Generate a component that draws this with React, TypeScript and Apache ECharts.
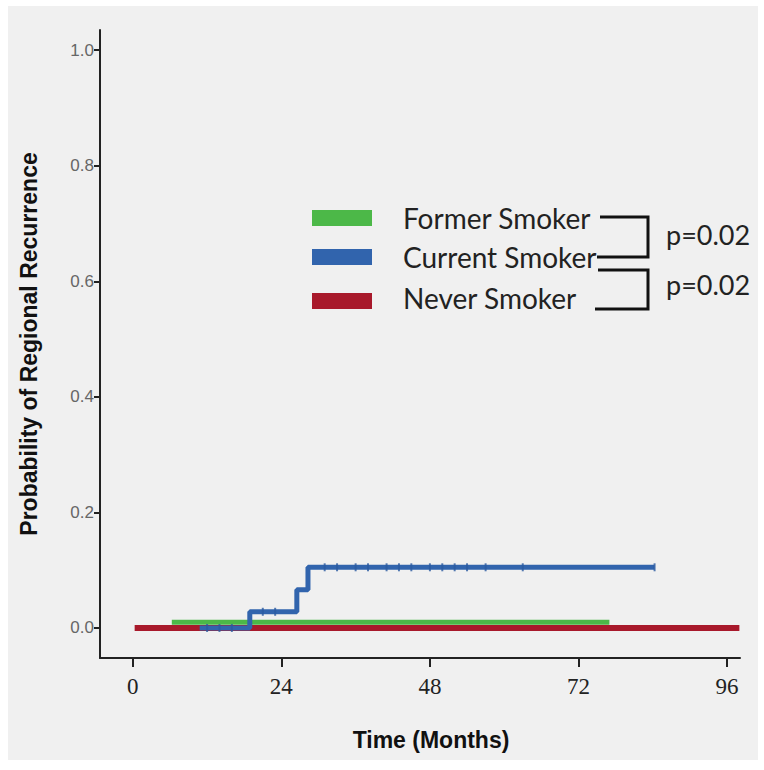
import React, { useEffect, useRef } from "react";
import * as echarts from "echarts";

// Kaplan–Meier step data: [month, cumulative probability]
const formerSmoker: [number, number][] = [
  [6.3, 0.01],
  [77, 0.01],
];
const currentSmoker: [number, number][] = [
  [10.8, 0],
  [18.9, 0.028],
  [26.5, 0.066],
  [28.3, 0.105],
  [84.3, 0.105],
];
const neverSmoker: [number, number][] = [
  [0.3, 0],
  [98, 0],
];
// censor marks on the current smoker curve
const currentCensors: [number, number][] = [
  [12, 0], [14, 0], [16, 0], [21, 0.028], [23, 0.028],
  [31, 0.105], [33, 0.105], [36, 0.105], [38, 0.105], [41, 0.105], [43, 0.105],
  [45, 0.105], [48, 0.105], [50, 0.105], [52, 0.105], [54, 0.105], [57, 0.105], [63, 0.105], [84.3, 0.105],
];
const xTicks = [0, 24, 48, 72, 96];
const yTicks = [0, 0.2, 0.4, 0.6, 0.8, 1.0];
const legendNames = ["Former Smoker", "Current Smoker", "Never Smoker"];
const legendColors = ["#4cb848", "#3164ad", "#a8192b"];
const pValues = ["p=0.02", "p=0.02"];

export default function App() {
  const ref = useRef<HTMLDivElement>(null);
  useEffect(() => {
    if (!ref.current) return;
    const chart = echarts.init(ref.current, undefined, { renderer: "svg" });
    const legendY = [218, 257, 298];
    const graphic: any[] = [
      { type: "rect", z: -10, shape: { x: 0, y: 0, width: 764, height: 770 }, style: { fill: "#ffffff" } },
      { type: "rect", z: -9, shape: { x: 8, y: 6, width: 750, height: 754 }, style: { fill: "#f0f0f0" } },
    ];
    legendNames.forEach((n, i) => {
      graphic.push({
        type: "rect",
        shape: { x: 312, y: legendY[i] - 8 + (i === 2 ? 3 : 0), width: 60, height: 16 },
        style: { fill: legendColors[i] },
      });
      graphic.push({
        type: "text",
        x: 403,
        y: legendY[i],
        style: { text: n, fill: "#222", font: "28px Lato, sans-serif", textVerticalAlign: "middle" },
      });
    });
    const bracketStyle = { stroke: "#111", lineWidth: 3, fill: "none" };
    graphic.push({
      type: "polyline",
      shape: { points: [[600, 217], [648, 217], [648, 257], [597, 257]] },
      style: bracketStyle,
    });
    graphic.push({
      type: "polyline",
      shape: { points: [[598, 270], [648, 270], [648, 309], [595, 309]] },
      style: bracketStyle,
    });
    pValues.forEach((p, i) => {
      graphic.push({
        type: "text",
        x: 666,
        y: i === 0 ? 234 : 284,
        style: { text: p, fill: "#222", font: "27px Lato, sans-serif", textVerticalAlign: "middle" },
      });
    });

    const lineSeries = (name: string, data: [number, number][], color: string, width: number, z: number) => ({
      name,
      type: "line",
      step: "end",
      data,
      showSymbol: false,
      symbol: "none",
      z,
      lineStyle: { color, width, cap: "butt" },
    });

    chart.setOption({
      animation: false,
      grid: { left: 100, top: 30, right: 24, bottom: 112 },
      xAxis: {
        type: "value",
        min: -5.3,
        max: 98.1,
        name: "Time (Months)",
        nameLocation: "middle",
        nameGap: 70,
        nameTextStyle: {
          fontFamily: "Liberation Sans, Arial, sans-serif",
          fontWeight: "bold",
          fontSize: 23,
          color: "#111",
          padding: [0, 0, 0, 22],
        },
        axisLine: { onZero: false, lineStyle: { color: "#222", width: 2 } },
        axisTick: { show: true, length: 9, lineStyle: { color: "#222", width: 2 }, customValues: xTicks },
        axisLabel: {
          customValues: xTicks,
          fontFamily: "Liberation Serif, Times New Roman, serif",
          fontSize: 23,
          color: "#222",
          margin: 17,
        },
        splitLine: { show: false },
      },
      yAxis: {
        type: "value",
        min: -0.052,
        max: 1.035,
        name: "Probability of Regional Recurrence",
        nameLocation: "middle",
        nameGap: 60,
        nameTextStyle: {
          fontFamily: "Liberation Sans, Arial, sans-serif",
          fontWeight: "bold",
          fontSize: 23,
          color: "#111",
        },
        axisLine: { show: true, onZero: false, lineStyle: { color: "#222", width: 2 } },
        axisTick: { show: true, length: 6, lineStyle: { color: "#222", width: 2 }, customValues: yTicks },
        axisLabel: {
          customValues: yTicks,
          formatter: (v: number) => v.toFixed(1),
          fontFamily: "Liberation Sans, Arial, sans-serif",
          fontSize: 17,
          color: "#666",
          margin: 6,
        },
        splitLine: { show: false },
      },
      graphic,
      series: [
        lineSeries("Former Smoker", formerSmoker, legendColors[0], 5, 2),
        lineSeries("Never Smoker", neverSmoker, legendColors[2], 6, 3),
        lineSeries("Current Smoker", currentSmoker, legendColors[1], 5, 4),
        {
          name: "Current censored",
          type: "scatter",
          data: currentCensors,
          symbol: "rect",
          symbolSize: [2, 8],
          z: 5,
          itemStyle: { color: "#2a5aa0" },
        },
      ],
    });
    return () => chart.dispose();
  }, []);
  return <div ref={ref} style={{ width: 764, height: 770, position: "absolute", left: 0, top: 0 }} />;
}
